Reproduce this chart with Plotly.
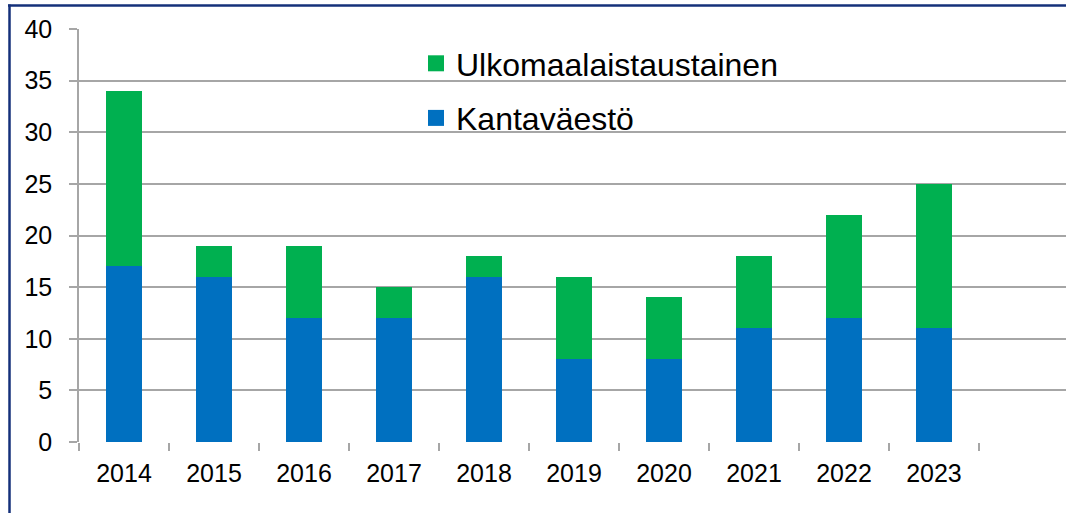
import plotly.graph_objects as go

years = ["2014", "2015", "2016", "2017", "2018", "2019", "2020", "2021", "2022", "2023", " "]
kantavaesto = [17, 16, 12, 12, 16, 8, 8, 11, 12, 11, None]
ulkomaalais = [17, 3, 7, 3, 2, 8, 6, 7, 10, 14, None]
y_ticks = [0, 5, 10, 15, 20, 25, 30, 35, 40]

BLUE, GREEN = "#0070C0", "#00B050"

W, H = 1066, 513
L, R, T, B = 79, 0, 29, 71
PW, PH = W - L - R, H - T - B

def px_x(px):
    return (px - L) / PW

def px_y(py):
    return (H - B - py) / PH

fig = go.Figure()
fig.add_trace(go.Bar(x=years, y=kantavaesto, name="Kantaväestö",
                     marker=dict(color=BLUE, line=dict(width=0)),
                     width=0.4, showlegend=False))
fig.add_trace(go.Bar(x=years, y=ulkomaalais, name="Ulkomaalaistaustainen",
                     marker=dict(color=GREEN, line=dict(width=0)),
                     width=0.4, showlegend=False))
# legend entries with larger square swatches
fig.add_trace(go.Scatter(x=[None], y=[None], mode="markers", name="Ulkomaalaistaustainen",
                         marker=dict(symbol="square", size=16, color=GREEN),
                         legendgroup="a", legendrank=1))
fig.add_trace(go.Scatter(x=[None], y=[None], mode="markers", name="Kantaväestö",
                         marker=dict(symbol="square", size=16, color=BLUE),
                         legendgroup="b", legendrank=2))

frame_col = "#14307A"
fig.add_shape(type="line", xref="paper", yref="paper",
              x0=px_x(8), x1=px_x(1070), y0=px_y(5.5), y1=px_y(5.5),
              line=dict(color=frame_col, width=2.5))
fig.add_shape(type="line", xref="paper", yref="paper",
              x0=px_x(9.5), x1=px_x(9.5), y0=px_y(4.5), y1=px_y(520),
              line=dict(color=frame_col, width=2.5))

fig.update_layout(
    width=W, height=H,
    margin=dict(l=L, r=R, t=T, b=B, pad=0),
    barmode="stack",
    plot_bgcolor="white", paper_bgcolor="white",
    font=dict(family="Liberation Sans, Arial, sans-serif", color="black", size=25),
    legend=dict(x=px_x(416), y=px_y(36), xanchor="left", yanchor="top",
                traceorder="grouped", tracegroupgap=10,
                font=dict(size=32), bgcolor="rgba(0,0,0,0)", itemwidth=30),
    xaxis=dict(type="category", range=[-0.5, 10.467], tickson="boundaries",
               ticks="outside", ticklen=8, tickcolor="#a6a6a6", tickwidth=1.5,
               showgrid=False, showline=False, zeroline=False,
               ticklabelstandoff=14,
               tickfont=dict(size=25), fixedrange=True),
    yaxis=dict(range=[0, 40], tickvals=y_ticks, ticks="outside", ticklen=8,
               tickcolor="#a6a6a6", tickwidth=1.5,
               showgrid=True, gridcolor="#a6a6a6", gridwidth=1.5,
               showline=True, linecolor="#a6a6a6", linewidth=1.5,
               zeroline=False, ticklabelstandoff=12,
               tickfont=dict(size=25), fixedrange=True),
)

fig.write_html("out.html", config={"displayModeBar": False},
               post_script="document.body.style.margin='0';document.body.style.overflow='hidden';")
